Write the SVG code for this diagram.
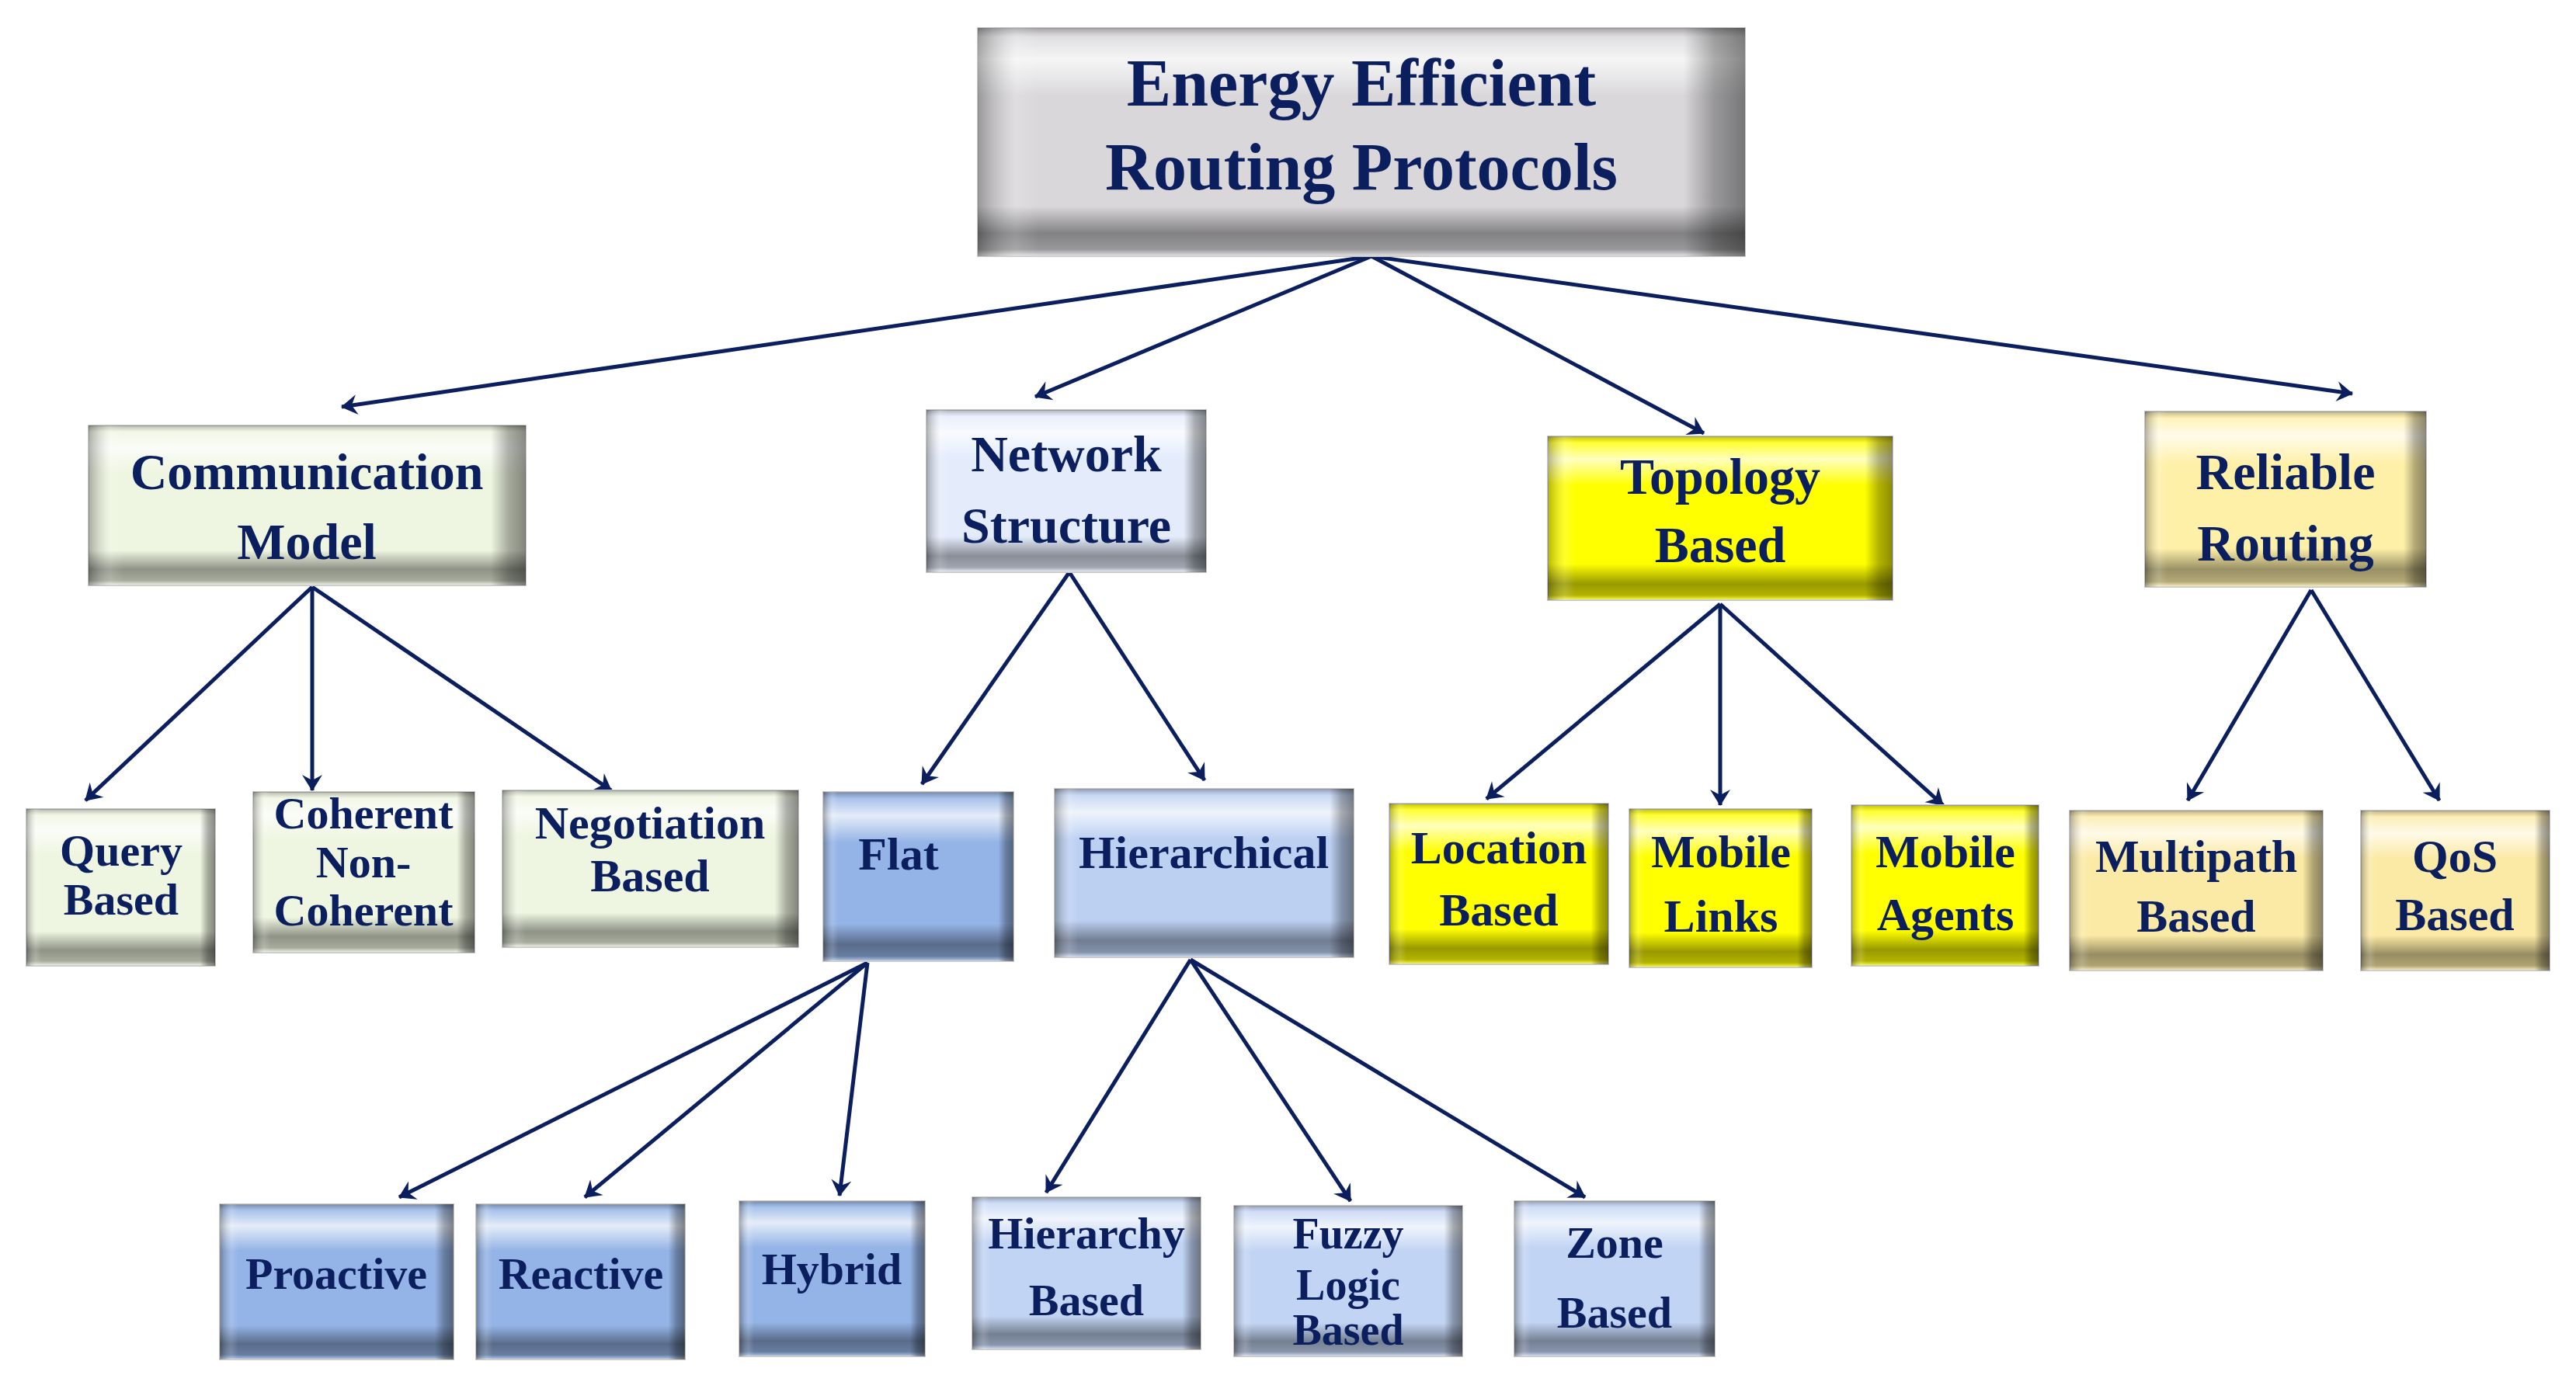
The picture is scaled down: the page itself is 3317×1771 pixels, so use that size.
<svg xmlns="http://www.w3.org/2000/svg" width="3317" height="1771" viewBox="0 0 3317 1771">
<style>
.t{font-family:"Liberation Serif","DejaVu Serif",serif;font-weight:bold;fill:#0b1f5e;text-anchor:middle}
.c{stroke:#0b1f5e;stroke-width:5;fill:none;marker-end:url(#ah)}
.v{fill:url(#gv)}.h{fill:url(#gh)}
.o{stroke:#c8c8c8;stroke-width:2}
</style>
<defs>
<linearGradient id="gv" x1="0" y1="0" x2="0" y2="1">
<stop offset="0" stop-color="#000" stop-opacity="0.25"/>
<stop offset="0.04" stop-color="#fff" stop-opacity="0.2"/>
<stop offset="0.14" stop-color="#fff" stop-opacity="0.75"/>
<stop offset="0.3" stop-color="#fff" stop-opacity="0"/>
<stop offset="0.78" stop-color="#000" stop-opacity="0"/>
<stop offset="0.9" stop-color="#000" stop-opacity="0.4"/>
<stop offset="0.97" stop-color="#000" stop-opacity="0.3"/>
<stop offset="1" stop-color="#fff" stop-opacity="0.3"/>
</linearGradient>
<linearGradient id="gh" x1="0" y1="0" x2="1" y2="0">
<stop offset="0" stop-color="#000" stop-opacity="0.3"/>
<stop offset="0.05" stop-color="#fff" stop-opacity="0.15"/>
<stop offset="0.08" stop-color="#fff" stop-opacity="0"/>
<stop offset="0.92" stop-color="#000" stop-opacity="0"/>
<stop offset="0.96" stop-color="#000" stop-opacity="0.3"/>
<stop offset="1" stop-color="#000" stop-opacity="0.45"/>
</linearGradient>
<marker id="ah" viewBox="0 0 20 20" refX="18" refY="10" markerWidth="10" markerHeight="10" markerUnits="userSpaceOnUse" orient="auto" overflow="visible">
<path d="M-22,-16 L20,10 L-22,36 L-8,10 Z" fill="#0b1f5e" transform="translate(0,0)"/>
</marker>
</defs>
<g id="connectors">
<path class="c" d="M1766,330 L440,524"/>
<path class="c" d="M1766,330 L1333,511"/>
<path class="c" d="M1766,330 L2194,558"/>
<path class="c" d="M1766,330 L3029,507"/>
<path class="c" d="M402,756 L110,1031"/>
<path class="c" d="M402,756 L402,1018"/>
<path class="c" d="M402,756 L787,1018"/>
<path class="c" d="M1377,737 L1187,1010"/>
<path class="c" d="M1377,737 L1551,1005"/>
<path class="c" d="M2215,778 L1914,1029"/>
<path class="c" d="M2215,778 L2215,1037"/>
<path class="c" d="M2215,778 L2502,1037"/>
<path class="c" d="M2976,760 L2817,1031"/>
<path class="c" d="M2976,760 L3141,1031"/>
<path class="c" d="M1117,1240 L514,1542"/>
<path class="c" d="M1117,1240 L753,1542"/>
<path class="c" d="M1117,1240 L1081,1540"/>
<path class="c" d="M1533,1236 L1347,1536"/>
<path class="c" d="M1533,1236 L1739,1547"/>
<path class="c" d="M1533,1236 L2041,1542"/>
</g>
<g id="root"><rect class="o" x="1259" y="36" width="988" height="294" fill="#d9d7da"/><rect class="v" x="1259" y="36" width="988" height="294"/><rect class="h" x="1259" y="36" width="988" height="294"/>
<text class="t" x="1753" y="136" font-size="86">Energy Efficient</text><text class="t" x="1753" y="244" font-size="86">Routing Protocols</text></g>
<g id="comm"><rect class="o" x="114" y="548" width="563" height="206" fill="#eef5e0"/><rect class="v" x="114" y="548" width="563" height="206"/><rect class="h" x="114" y="548" width="563" height="206"/>
<text class="t" x="395" y="630" font-size="66">Communication</text><text class="t" x="395" y="720" font-size="66">Model</text></g>
<g id="net"><rect class="o" x="1193" y="528" width="360" height="209" fill="#e4ecfb"/><rect class="v" x="1193" y="528" width="360" height="209"/><rect class="h" x="1193" y="528" width="360" height="209"/>
<text class="t" x="1373" y="607" font-size="66">Network</text><text class="t" x="1373" y="699" font-size="66">Structure</text></g>
<g id="topo"><rect class="o" x="1993" y="562" width="444" height="211" fill="#ffff00"/><rect class="v" x="1993" y="562" width="444" height="211"/><rect class="h" x="1993" y="562" width="444" height="211"/>
<text class="t" x="2215" y="636" font-size="66">Topology</text><text class="t" x="2215" y="724" font-size="66">Based</text></g>
<g id="rel"><rect class="o" x="2762" y="530" width="362" height="226" fill="#fff0a8"/><rect class="v" x="2762" y="530" width="362" height="226"/><rect class="h" x="2762" y="530" width="362" height="226"/>
<text class="t" x="2943" y="630" font-size="66">Reliable</text><text class="t" x="2943" y="722" font-size="66">Routing</text></g>
<g id="query"><rect class="o" x="34" y="1042" width="243" height="202" fill="#eef5e0"/><rect class="v" x="34" y="1042" width="243" height="202"/><rect class="h" x="34" y="1042" width="243" height="202"/>
<text class="t" x="156" y="1115" font-size="58">Query</text><text class="t" x="156" y="1178" font-size="58">Based</text></g>
<g id="coherent"><rect class="o" x="326" y="1020" width="285" height="207" fill="#eef5e0"/><rect class="v" x="326" y="1020" width="285" height="207"/><rect class="h" x="326" y="1020" width="285" height="207"/>
<text class="t" x="468" y="1067" font-size="58">Coherent</text><text class="t" x="468" y="1130" font-size="58">Non-</text><text class="t" x="468" y="1192" font-size="58">Coherent</text></g>
<g id="nego"><rect class="o" x="647" y="1018" width="381" height="202" fill="#eef5e0"/><rect class="v" x="647" y="1018" width="381" height="202"/><rect class="h" x="647" y="1018" width="381" height="202"/>
<text class="t" x="837" y="1080" font-size="60">Negotiation</text><text class="t" x="837" y="1148" font-size="60">Based</text></g>
<g id="flat"><rect class="o" x="1060" y="1020" width="245" height="218" fill="#94b3e6"/><rect class="v" x="1060" y="1020" width="245" height="218"/><rect class="h" x="1060" y="1020" width="245" height="218"/>
<text class="t" x="1157" y="1120" font-size="60">Flat</text></g>
<g id="hier"><rect class="o" x="1358" y="1016" width="385" height="217" fill="#bcd0f2"/><rect class="v" x="1358" y="1016" width="385" height="217"/><rect class="h" x="1358" y="1016" width="385" height="217"/>
<text class="t" x="1550" y="1118" font-size="60">Hierarchical</text></g>
<g id="loc"><rect class="o" x="1789" y="1035" width="282" height="207" fill="#ffff00"/><rect class="v" x="1789" y="1035" width="282" height="207"/><rect class="h" x="1789" y="1035" width="282" height="207"/>
<text class="t" x="1930" y="1112" font-size="60">Location</text><text class="t" x="1930" y="1192" font-size="60">Based</text></g>
<g id="links"><rect class="o" x="2098" y="1042" width="235" height="204" fill="#ffff00"/><rect class="v" x="2098" y="1042" width="235" height="204"/><rect class="h" x="2098" y="1042" width="235" height="204"/>
<text class="t" x="2216" y="1117" font-size="60">Mobile</text><text class="t" x="2216" y="1200" font-size="60">Links</text></g>
<g id="agents"><rect class="o" x="2384" y="1037" width="241" height="207" fill="#ffff00"/><rect class="v" x="2384" y="1037" width="241" height="207"/><rect class="h" x="2384" y="1037" width="241" height="207"/>
<text class="t" x="2505" y="1117" font-size="60">Mobile</text><text class="t" x="2505" y="1198" font-size="60">Agents</text></g>
<g id="multi"><rect class="o" x="2665" y="1044" width="326" height="206" fill="#fbeaa5"/><rect class="v" x="2665" y="1044" width="326" height="206"/><rect class="h" x="2665" y="1044" width="326" height="206"/>
<text class="t" x="2828" y="1123" font-size="60">Multipath</text><text class="t" x="2828" y="1200" font-size="60">Based</text></g>
<g id="qos"><rect class="o" x="3040" y="1044" width="243" height="206" fill="#fbeaa5"/><rect class="v" x="3040" y="1044" width="243" height="206"/><rect class="h" x="3040" y="1044" width="243" height="206"/>
<text class="t" x="3161" y="1123" font-size="60">QoS</text><text class="t" x="3161" y="1198" font-size="60">Based</text></g>
<g id="proactive"><rect class="o" x="283" y="1551" width="301" height="200" fill="#94b3e6"/><rect class="v" x="283" y="1551" width="301" height="200"/><rect class="h" x="283" y="1551" width="301" height="200"/>
<text class="t" x="433" y="1660" font-size="58">Proactive</text></g>
<g id="reactive"><rect class="o" x="613" y="1551" width="269" height="200" fill="#94b3e6"/><rect class="v" x="613" y="1551" width="269" height="200"/><rect class="h" x="613" y="1551" width="269" height="200"/>
<text class="t" x="748" y="1660" font-size="58">Reactive</text></g>
<g id="hybrid"><rect class="o" x="952" y="1547" width="239" height="200" fill="#94b3e6"/><rect class="v" x="952" y="1547" width="239" height="200"/><rect class="h" x="952" y="1547" width="239" height="200"/>
<text class="t" x="1071" y="1654" font-size="58">Hybrid</text></g>
<g id="hierb"><rect class="o" x="1252" y="1542" width="294" height="196" fill="#c2d4f4"/><rect class="v" x="1252" y="1542" width="294" height="196"/><rect class="h" x="1252" y="1542" width="294" height="196"/>
<text class="t" x="1399" y="1608" font-size="58">Hierarchy</text><text class="t" x="1399" y="1694" font-size="58">Based</text></g>
<g id="fuzzy"><rect class="o" x="1589" y="1553" width="294" height="194" fill="#c2d4f4"/><rect class="v" x="1589" y="1553" width="294" height="194"/><rect class="h" x="1589" y="1553" width="294" height="194"/>
<text class="t" x="1736" y="1608" font-size="56">Fuzzy</text><text class="t" x="1736" y="1674" font-size="56">Logic</text><text class="t" x="1736" y="1732" font-size="56">Based</text></g>
<g id="zone"><rect class="o" x="1950" y="1547" width="258" height="200" fill="#c2d4f4"/><rect class="v" x="1950" y="1547" width="258" height="200"/><rect class="h" x="1950" y="1547" width="258" height="200"/>
<text class="t" x="2079" y="1620" font-size="58">Zone</text><text class="t" x="2079" y="1710" font-size="58">Based</text></g>
</svg>
